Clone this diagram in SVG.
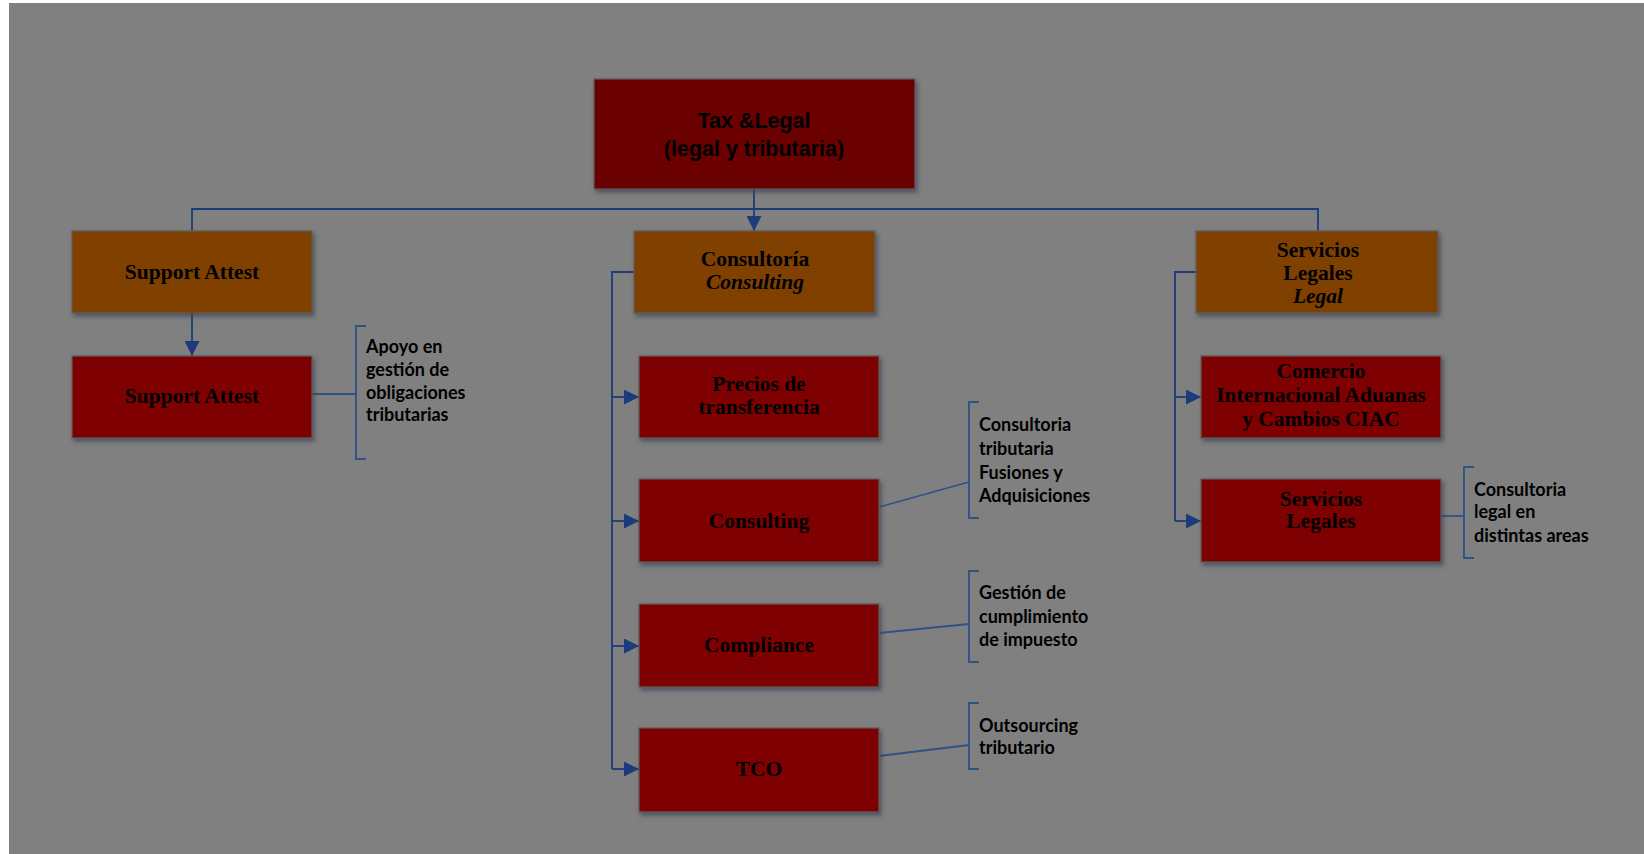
<svg xmlns="http://www.w3.org/2000/svg" width="1644" height="854" viewBox="0 0 1644 854">
<defs>
<filter id="sh" x="-10%" y="-10%" width="125%" height="130%">
<feDropShadow dx="2" dy="3" stdDeviation="2" flood-color="#39414f" flood-opacity="0.7"/>
</filter>
<marker id="ar" markerWidth="15" markerHeight="15" refX="15" refY="7.5" orient="auto" markerUnits="userSpaceOnUse">
<path d="M0,0 L15,7.5 L0,15 Z" fill="#1d3a7a"/>
</marker>
<style>
.top{fill:#6b0000;stroke:#5e5e5e;stroke-width:1.2;filter:url(#sh)}
.hd{fill:#7f3f00;stroke:#5e5e5e;stroke-width:1.2;filter:url(#sh)}
.sb{fill:#7f0000;stroke:#5e5e5e;stroke-width:1.2;filter:url(#sh)}
.bt{font-family:"Liberation Serif",serif;font-weight:bold;font-size:21.5px;fill:#000;text-anchor:middle}
.it{font-style:italic}
.tt{font-family:"Liberation Sans",Arial,sans-serif;font-weight:bold;font-size:21.5px;fill:#000;text-anchor:middle}
.an{font-family:Lato,"Liberation Sans",sans-serif;font-weight:bold;font-size:18px;fill:#000}
.ln{fill:none;stroke:#1d3a7a;stroke-width:1.8}
.br{fill:none;stroke:#2f5186;stroke-width:1.8}
</style>
</defs>
<rect x="0" y="0" width="1644" height="854" fill="#ffffff"/>
<rect x="9" y="3" width="1635" height="851" fill="#808080"/>

<g id="connectors">
<path class="ln" d="M754,189 V231" marker-end="url(#ar)"/>
<path class="ln" d="M192,231 V209 H1318 V231"/>
<path class="ln" d="M192,313 V356" marker-end="url(#ar)"/>
<path class="ln" d="M634,272 H612 V769"/>
<path class="ln" d="M612,397 H639" marker-end="url(#ar)"/>
<path class="ln" d="M612,521 H639" marker-end="url(#ar)"/>
<path class="ln" d="M612,646 H639" marker-end="url(#ar)"/>
<path class="ln" d="M612,769 H639" marker-end="url(#ar)"/>
<path class="ln" d="M1196,272 H1175 V521"/>
<path class="ln" d="M1175,397 H1201" marker-end="url(#ar)"/>
<path class="ln" d="M1175,521 H1201" marker-end="url(#ar)"/>
<path class="br" d="M312,394 H356"/>
<path class="br" d="M879,507 L969,482"/>
<path class="br" d="M879,633 L969,624"/>
<path class="br" d="M879,756 L969,745"/>
<path class="br" d="M1441,516 H1464"/>
</g>

<g id="n-tax-legal">
<rect class="top" x="594" y="79" width="321" height="110"/>
<text class="tt" x="754" y="128">Tax &amp;Legal</text>
<text class="tt" x="754" y="156">(legal y tributaria)</text>
</g>

<g id="n-support-attest-h">
<rect class="hd" x="72" y="231" width="240" height="82"/>
<text class="bt" x="192" y="279">Support Attest</text>
</g>

<g id="n-consultoria">
<rect class="hd" x="634" y="231" width="241" height="82"/>
<text class="bt" x="755" y="266">Consultoría</text>
<text class="bt it" x="755" y="289">Consulting</text>
</g>

<g id="n-servicios-h">
<rect class="hd" x="1196" y="231" width="242" height="82"/>
<text class="bt" x="1318" y="257">Servicios</text>
<text class="bt" x="1318" y="280">Legales</text>
<text class="bt it" x="1318" y="303">Legal</text>
</g>

<g id="n-support-attest">
<rect class="sb" x="72" y="356" width="240" height="82"/>
<text class="bt" x="192" y="403">Support Attest</text>
</g>

<g id="n-precios">
<rect class="sb" x="639" y="356" width="240" height="82"/>
<text class="bt" x="759" y="391">Precios de</text>
<text class="bt" x="759" y="414">transferencia</text>
</g>

<g id="n-consulting">
<rect class="sb" x="639" y="479" width="240" height="83"/>
<text class="bt" x="759" y="528">Consulting</text>
</g>

<g id="n-compliance">
<rect class="sb" x="639" y="604" width="240" height="83"/>
<text class="bt" x="759" y="652">Compliance</text>
</g>

<g id="n-tco">
<rect class="sb" x="639" y="728" width="240" height="84"/>
<text class="bt" x="759" y="776">TCO</text>
</g>

<g id="n-ciac">
<rect class="sb" x="1201" y="356" width="240" height="82"/>
<text class="bt" x="1321" y="378">Comercio</text>
<text class="bt" x="1321" y="402">Internacional Aduanas</text>
<text class="bt" x="1321" y="426">y Cambios CIAC</text>
</g>

<g id="n-servicios">
<rect class="sb" x="1201" y="479" width="240" height="83"/>
<text class="bt" x="1321" y="506">Servicios</text>
<text class="bt" x="1321" y="528">Legales</text>
</g>

<g id="a-apoyo">
<path class="br" d="M366,326 H356 V459 H366"/>
<text class="an" x="366" y="353">Apoyo en</text>
<text class="an" x="366" y="376">gestión de</text>
<text class="an" x="366" y="399">obligaciones</text>
<text class="an" x="366" y="421">tributarias</text>
</g>

<g id="a-fusiones">
<path class="br" d="M979,402 H969 V518 H979"/>
<text class="an" x="979" y="431">Consultoria</text>
<text class="an" x="979" y="455">tributaria</text>
<text class="an" x="979" y="479">Fusiones y</text>
<text class="an" x="979" y="502">Adquisiciones</text>
</g>

<g id="a-cumplimiento">
<path class="br" d="M979,571 H969 V662 H979"/>
<text class="an" x="979" y="599">Gestión de</text>
<text class="an" x="979" y="623">cumplimiento</text>
<text class="an" x="979" y="646">de impuesto</text>
</g>

<g id="a-outsourcing">
<path class="br" d="M979,703 H969 V769 H979"/>
<text class="an" x="979" y="732">Outsourcing</text>
<text class="an" x="979" y="754">tributario</text>
</g>

<g id="a-legal">
<path class="br" d="M1474,467 H1464 V558 H1474"/>
<text class="an" x="1474" y="496">Consultoria</text>
<text class="an" x="1474" y="518">legal en</text>
<text class="an" x="1474" y="542">distintas areas</text>
</g>
</svg>
